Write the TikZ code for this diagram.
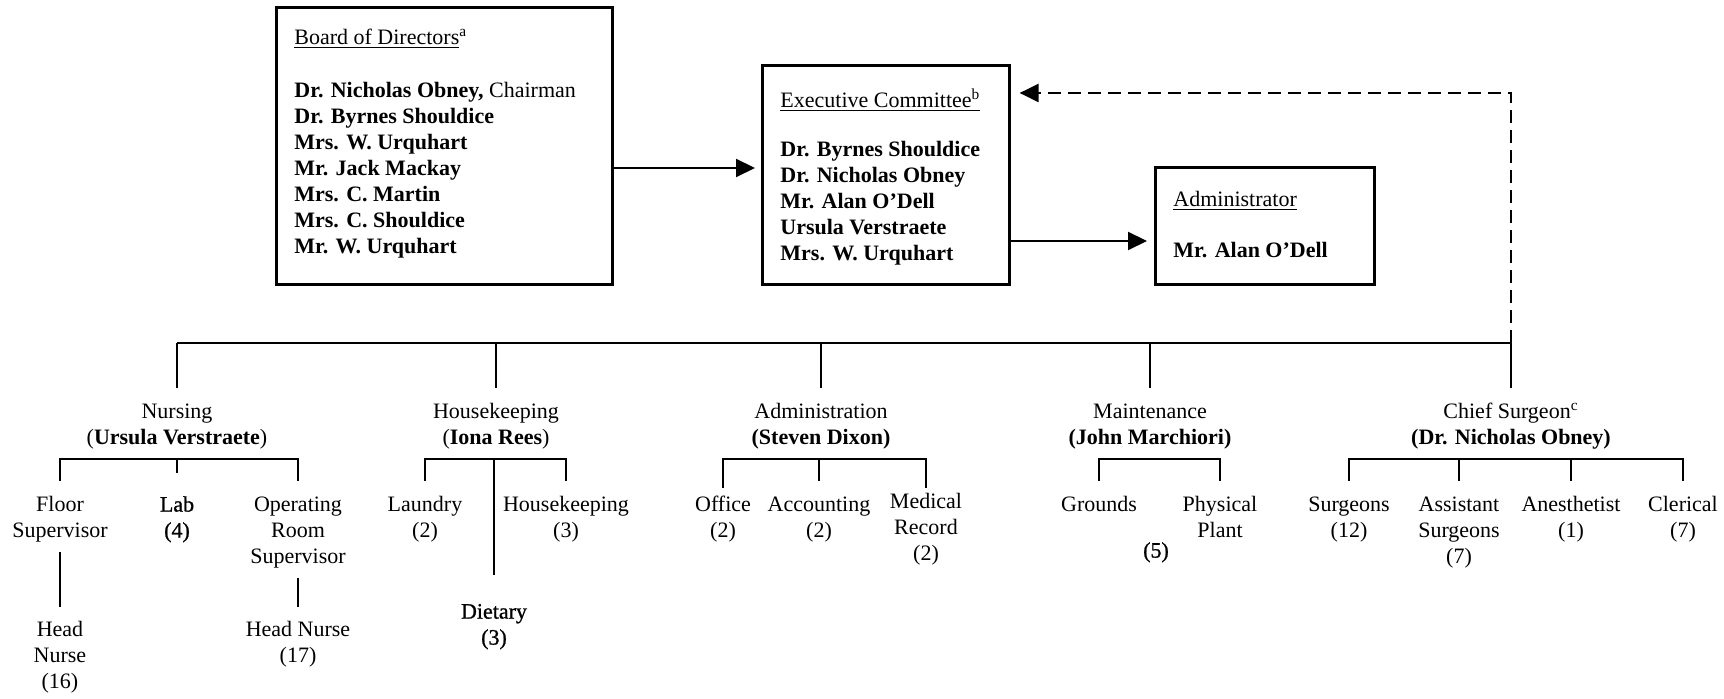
\documentclass[tikz,border=0pt]{standalone}
\usepackage{fontspec}
\setmainfont{Liberation Serif}
\newfontfamily\medfont[FakeBold=1]{Liberation Serif}
\usetikzlibrary{arrows.meta}
\begin{document}
\begin{tikzpicture}[x=0.5pt,y=-0.5pt,
  box/.style={draw, line width=1.3pt, inner sep=0pt, anchor=north west},
  btxt/.style={inner sep=0pt, anchor=north west, align=left, font=\fontsize{11}{13}\selectfont},
  lbl/.style={inner sep=0pt, anchor=north, align=center, font=\fontsize{11}{13}\selectfont},
  med/.style={font=\fontsize{11}{13}\medfont},
  ln/.style={line width=1.05pt},
  arr/.style={line width=1.05pt, -{Triangle[length=9.5pt,width=9pt]}},
  darr/.style={arr, line width=1.15pt, dash pattern=on 6.5pt off 3.5pt},
]
\useasboundingbox (0,0) rectangle (1724,699);

% ---- top boxes
\node[box, minimum width=168pt, minimum height=138.5pt] (board) at (275,6) {};
\node[btxt] (boardt) at (294,26) {\strut\underline{Board of Directors}\textsuperscript{a}\\[13.5pt]
  \textbf{Dr. Nicholas Obney,} Chairman\\
  \textbf{Dr. Byrnes Shouldice}\\
  \textbf{Mrs. W. Urquhart}\\
  \textbf{Mr. Jack Mackay}\\
  \textbf{Mrs. C. Martin}\\
  \textbf{Mrs. C. Shouldice}\\
  \textbf{Mr. W. Urquhart}};

\node[box, minimum width=123.5pt, minimum height=109.5pt] (exec) at (761,64) {};
\node[btxt] (exect) at (780,88) {\strut\underline{Executive Committee\textsuperscript{b}}\\[11.5pt]
  \textbf{Dr. Byrnes Shouldice}\\
  \textbf{Dr. Nicholas Obney}\\
  \textbf{Mr. Alan O’Dell}\\
  \textbf{Ursula Verstraete}\\
  \textbf{Mrs. W. Urquhart}};

\node[box, minimum width=109.5pt, minimum height=58.5pt] (admin) at (1154,166) {};
\node[btxt] (admint) at (1173,188) {\strut\underline{Administrator}\\[12.5pt]
  \textbf{Mr. Alan O’Dell}};

\coordinate (ya) at (0,168);
\coordinate (yb) at (0,241);
\coordinate (yd) at (0,93);
\draw[arr, shorten >=3pt] (board.east |- ya) -- (exec.west |- ya);
\draw[arr, shorten >=3.5pt] (exec.east |- yb) -- (admin.west |- yb);

% ---- departments
\coordinate (bus) at (0,343);
\coordinate (ns) at (0,459);
\node[lbl] (nurs) at (177,400) {\strut Nursing\\(\textbf{Ursula Verstraete})};
\node[lbl] (hk) at (496,400) {\strut Housekeeping\\(\textbf{Iona Rees})};
\node[lbl] (adm) at (821,400) {\strut Administration\\\textbf{(Steven Dixon)}};
\node[lbl] (mnt) at (1150,400) {\strut Maintenance\\\textbf{(John Marchiori)}};
\node[lbl] (chief) at (1511,400) {\strut Chief Surgeon\textsuperscript{c}\\\textbf{(Dr. Nicholas Obney)}};
\coordinate (busR) at (chief.north |- bus);

\draw[ln] (nurs.north |- bus) -- (busR);
\foreach \d in {nurs,hk,adm,mnt,chief}
  \draw[ln] (\d.north |- bus) -- ([yshift=6pt]\d.north);
\draw[darr, shorten >=4.5pt] (busR) |- (exec.east |- yd);

% ---- Nursing
\node[lbl] (floor) at (60,493) {\strut Floor\\Supervisor};
\node[lbl, med] (lab) at (177,493) {\strut Lab\\(4)};
\node[lbl] (ors) at (298,493) {\strut Operating\\Room\\Supervisor};
\node[lbl] (hn16) at (60,618) {\strut Head\\Nurse\\(16)};
\node[lbl] (hn17) at (298,618) {\strut Head Nurse\\(17)};
\draw[ln] ([yshift=6pt]floor.north) |- (ors.north |- ns) -- ([yshift=6pt]ors.north);
\draw[ln] (lab.north |- ns) -- ([yshift=10pt]lab.north);
\draw[ln] ([yshift=-29.5pt]floor.north) -- ([yshift=5.5pt]hn16.north);
\draw[ln] ([yshift=-42.5pt]ors.north) -- ([yshift=5.5pt]hn17.north);

% ---- Housekeeping
\node[lbl] (laun) at (425,493) {\strut Laundry\\(2)};
\node[lbl] (hk3) at (566,493) {\strut Housekeeping\\(3)};
\node[lbl, med] (diet) at (494,600) {\strut Dietary\\(3)};
\draw[ln] ([yshift=6pt]laun.north) |- (hk3.north |- ns) -- ([yshift=6pt]hk3.north);
\draw[ln] (diet.north |- ns) -- ([yshift=12.5pt]diet.north);

% ---- Administration
\node[lbl] (off) at (723,493) {\strut Office\\(2)};
\node[lbl] (acc) at (819,493) {\strut Accounting\\(2)};
\node[lbl] (medrec) at (926,490) {\strut Medical\\Record\\(2)};
\draw[ln] ([yshift=2.5pt]off.north) |- (medrec.north |- ns) -- ([yshift=1pt]medrec.north);
\draw[ln] (acc.north |- ns) -- ([yshift=6pt]acc.north);

% ---- Maintenance
\node[lbl] (grd) at (1099,493) {\strut Grounds};
\node[lbl] (php) at (1220,493) {\strut Physical\\Plant};
\node[lbl, med] (m5) at (1156,539) {\strut (5)};
\draw[ln] ([yshift=6pt]grd.north) |- (php.north |- ns) -- ([yshift=6pt]php.north);

% ---- Chief Surgeon
\node[lbl] (surg) at (1349,493) {\strut Surgeons\\(12)};
\node[lbl] (asst) at (1459,493) {\strut Assistant\\Surgeons\\(7)};
\node[lbl] (anes) at (1571,493) {\strut Anesthetist\\(1)};
\node[lbl] (cler) at (1683,493) {\strut Clerical\\(7)};
\draw[ln] ([yshift=6pt]surg.north) |- (cler.north |- ns) -- ([yshift=6pt]cler.north);
\draw[ln] (asst.north |- ns) -- ([yshift=6pt]asst.north);
\draw[ln] (anes.north |- ns) -- ([yshift=6pt]anes.north);
\end{tikzpicture}
\end{document}
